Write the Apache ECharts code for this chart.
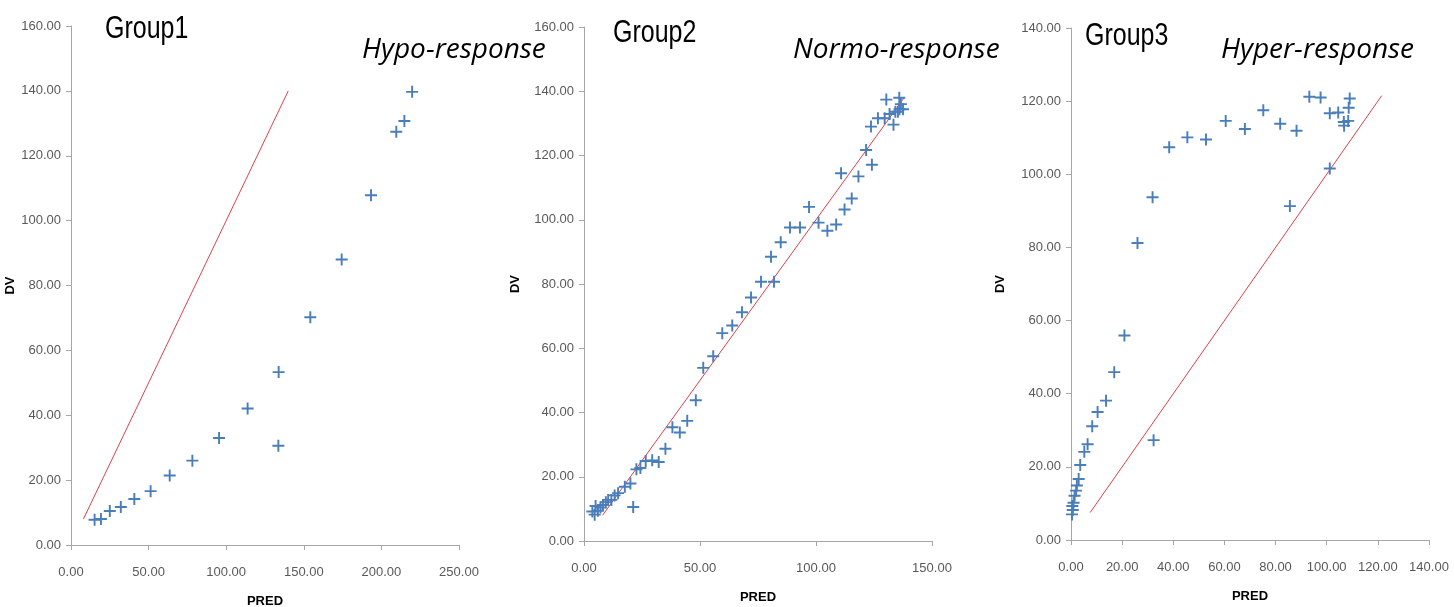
<!DOCTYPE html>
<html>
<head>
<meta charset="utf-8">
<script src="https://cdn.jsdelivr.net/npm/echarts@6/dist/echarts.min.js"></script>
<style>
html,body{margin:0;padding:0;background:#fff;}
#c{width:1454px;height:607px;}
</style>
</head>
<body>
<div id="c"></div>
<script>
// ---- Data (PRED, DV) ----
const group1Points = [
  [15.2,7.8],[19.3,8.0],[25.0,10.5],[32.1,11.7],[40.8,14.2],[51.3,16.6],
  [63.6,21.4],[78.2,26.0],[95.4,33.0],[113.8,42.1],[133.8,53.3],[133.6,30.6],
  [154.2,70.2],[174.4,88.0],[193.3,107.8],[209.6,127.4],[214.8,130.7],[219.8,139.7]
];
const group2Points = [
  [3.6,9.2],[4.6,8.2],[5.0,10.9],[6.0,9.4],[7.1,10.4],[8.2,11.2],[9.4,12.1],
  [10.4,12.8],[11.8,12.8],[13.2,14.2],[14.7,14.9],[17.6,16.9],[20.0,17.9],
  [21.2,10.6],[22.6,22.3],[24.3,22.7],[26.6,24.9],[29.4,25.1],[32.2,24.6],
  [35.1,28.7],[38.1,35.4],[41.3,33.8],[44.5,37.4],[48.2,43.8],[51.4,53.9],
  [55.7,57.5],[59.6,64.7],[63.9,67.1],[68.1,71.2],[72.0,75.8],[76.3,80.7],
  [81.9,80.7],[80.6,88.5],[84.8,93.0],[88.8,97.6],[93.1,97.6],[97.0,104.0],
  [101.1,99.1],[104.9,96.6],[108.7,98.5],[110.8,114.5],[112.3,103.2],
  [115.4,106.6],[118.3,113.5],[121.6,121.7],[124.1,117.1],[123.7,129.0],
  [126.7,131.6],[129.6,131.6],[130.3,137.4],[131.7,132.9],[133.4,129.6],
  [134.2,133.6],[135.3,133.6],[135.9,138.0],[136.0,134.4],[136.6,136.0],[137.5,134.4]
];
const group3Points = [
  [0.4,7.0],[0.7,8.2],[0.5,9.3],[1.0,10.2],[1.4,12.1],[2.0,13.5],[2.3,14.9],
  [3.0,16.7],[3.6,20.5],[5.2,24.1],[6.5,26.2],[8.3,31.1],[10.4,35.0],[13.7,38.1],
  [16.9,45.9],[20.9,55.9],[26.0,81.2],[31.9,93.7],[32.3,27.3],[38.4,107.4],
  [45.5,110.1],[52.8,109.5],[60.5,114.6],[68.0,112.4],[75.2,117.5],[81.8,113.8],
  [85.6,91.3],[88.2,111.9],[93.2,121.2],[97.6,121.0],[101.2,116.7],[101.2,101.6],
  [104.5,116.9],[106.7,114.3],[106.8,113.3],[108.4,114.6],[108.6,118.2],[109.0,120.7]
];
// identity (line of unity) end points
const group1Line = [[8,8],[140,140]];
const group2Line = [[8,8],[138,138]];
const group3Line = [[7.5,7.5],[121.5,121.5]];

const groupTitles = ['Group1','Group2','Group3'];
const responseTitles = ['Hypo-response','Normo-response','Hyper-response'];
const xMax = [250,150,140];
const xInterval = [50,50,20];
const yMax = [160,160,140];
const yInterval = [20,20,20];
const xName = 'PRED';
const yName = 'DV';

// ---- Layout ----
const grids = [
  {left:71, top:26, width:388, height:519},
  {left:584, top:27, width:348, height:514},
  {left:1071, top:28, width:358, height:512}
];
const yNameGap = [40,62,64];
const titlePos = [[105,29],[613,33],[1085,36]];
const respPos = [[362,50],[793,50],[1221,50]];

const tickFont = '"Liberation Sans",Arial,sans-serif';
const axisColor = '#a6a6a6';
const plusPath = 'path://M4.2,0H5.8V4.2H10V5.8H5.8V10H4.2V5.8H0V4.2H4.2Z';

const pts = [group1Points, group2Points, group3Points];
const lines = [group1Line, group2Line, group3Line];

const fmt = v => v.toFixed(2);
const nameStyle = {fontFamily:'"Liberation Sans",Arial,sans-serif', fontWeight:'bold', fontSize:13, color:'#000'};

const option = {
  animation:false,
  backgroundColor:'#ffffff',
  grid: grids.map(g => Object.assign({containLabel:false, outerBoundsMode:'none'}, g)),
  xAxis: [0,1,2].map(i => ({
    type:'value', gridIndex:i, min:0, max:xMax[i], interval:xInterval[i],
    name:xName, nameLocation:'middle', nameGap:50,
    nameTextStyle:nameStyle,
    axisLine:{show:true, onZero:false, lineStyle:{color:axisColor, width:1}},
    axisTick:{show:true, inside:false, length:5, lineStyle:{color:axisColor}},
    splitLine:{show:false},
    axisLabel:{formatter:fmt, fontFamily:tickFont, fontSize:13, color:'#595959', margin:21}
  })),
  yAxis: [0,1,2].map(i => ({
    type:'value', gridIndex:i, min:0, max:yMax[i], interval:yInterval[i],
    name:yName, nameLocation:'middle', nameGap:yNameGap[i], nameRotate:90,
    nameTextStyle:nameStyle,
    axisLine:{show:true, onZero:false, lineStyle:{color:axisColor, width:1}},
    axisTick:{show:true, inside:false, length:5, lineStyle:{color:axisColor}},
    splitLine:{show:false},
    axisLabel:{formatter:fmt, fontFamily:tickFont, fontSize:13, color:'#595959', margin:10}
  })),
  series: [].concat(
    [0,1,2].map(i => ({
      type:'line', xAxisIndex:i, yAxisIndex:i, data:lines[i],
      symbol:'none', lineStyle:{color:'#e0404a', width:1}, silent:true, z:1
    })),
    [0,1,2].map(i => ({
      type:'scatter', xAxisIndex:i, yAxisIndex:i, data:pts[i],
      symbol:plusPath, symbolSize:12,
      itemStyle:{color:'#4a7ebb', opacity:1}, z:2
    }))
  ),
  graphic: [].concat(
    [0,1,2].map(i => ({
      type:'text', x:titlePos[i][0], y:titlePos[i][1], scaleY:1.28,
      style:{text:groupTitles[i], fontFamily:'"Liberation Sans",Arial,sans-serif',
        fontSize:25, fill:'#000', verticalAlign:'middle', align:'left'}
    })),
    [0,1,2].map(i => ({
      type:'text', x:respPos[i][0], y:respPos[i][1],
      style:{text:responseTitles[i], fontFamily:'"Open Sans",sans-serif', fontStyle:'italic', fontWeight:500,
        fontSize:28, fill:'#000', verticalAlign:'middle', align:'left'}
    }))
  )
};

const chart = echarts.init(document.getElementById('c'), null, {renderer:'canvas'});
chart.setOption(option);
</script>
</body>
</html>
